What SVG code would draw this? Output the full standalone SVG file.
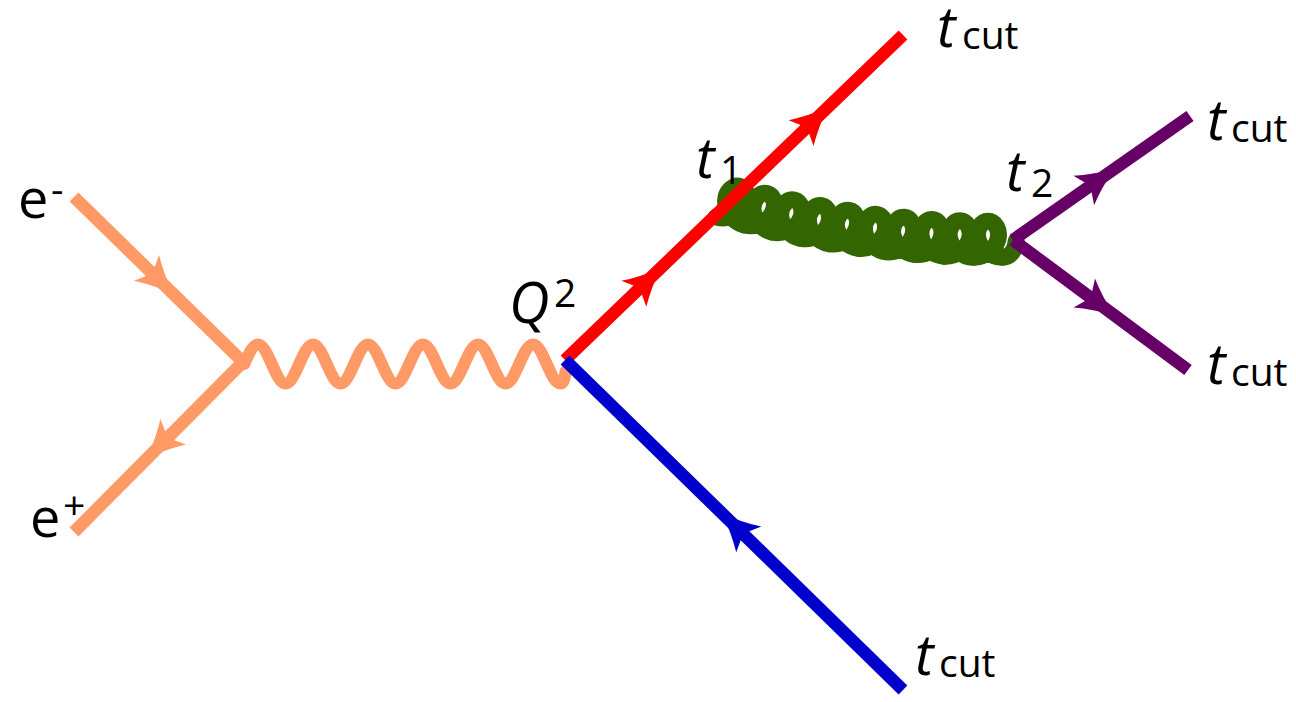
<svg xmlns="http://www.w3.org/2000/svg" width="1296" height="702" viewBox="0 0 1296 702">
<defs>
<style>
.ln{fill:none;stroke-width:12.5;stroke-linecap:butt}
.ph{fill:none;stroke:#FF9966;stroke-width:12;stroke-linecap:round;stroke-linejoin:round}
.gl{fill:none;stroke:#336600;stroke-width:17;stroke-linecap:round;stroke-linejoin:round}
.lab{font-family:"Open Sans","Liberation Sans",sans-serif;fill:#000}
.it{font-style:italic;font-size:56px}
.sub{font-size:39px}
.e{font-size:54px}
</style>
<path id="ah" d="M24,0 Q3,-8 -13,-18 Q-8,-7 -5,0 Q-8,7 -13,18 Q3,8 24,0 Z"/>
<path id="coil" class="gl" d="M-14.2,20.2 c11.62,0 21.66,-8.28 24.1,-18 c2.44,-9.72 -3.16,-18 -9.9,-18 c-6.74,0 -12.34,8.28 -9.9,18 c2.44,9.72 12.48,18 24.1,18"/>
</defs>
<rect width="1296" height="702" fill="#fff"/>
<g id="connectors">
  <g id="gluon">
    <use href="#coil" transform="translate(735.7,201.5) rotate(16)"/>
    <use href="#coil" transform="translate(763.1,208.9) rotate(14.2)"/>
    <use href="#coil" transform="translate(790.8,215.5) rotate(12.4)"/>
    <use href="#coil" transform="translate(818.6,221.2) rotate(10.7)"/>
    <use href="#coil" transform="translate(846.6,226.0) rotate(8.9)"/>
    <use href="#coil" transform="translate(874.7,230.0) rotate(7.1)"/>
    <use href="#coil" transform="translate(902.9,233.0) rotate(5.3)"/>
    <use href="#coil" transform="translate(931.3,235.2) rotate(3.6)"/>
    <use href="#coil" transform="translate(959.6,236.6) rotate(1.8)"/>
    <use href="#coil" transform="translate(988.0,237.0)"/>
    <path class="gl" d="M1002.2,257.2 c8,0 13,-7 14,-16"/>
  </g>
  <path id="photon" class="ph" d="M244.25,364 c4.48,-9.99 8.77,-19.5 13.75,-19.5 c4.98,0 9.27,9.51 13.75,19.5 c4.48,9.99 8.77,19.5 13.75,19.5 c4.98,0 9.27,-9.51 13.75,-19.5 c4.48,-9.99 8.77,-19.5 13.75,-19.5 c4.98,0 9.27,9.51 13.75,19.5 c4.48,9.99 8.77,19.5 13.75,19.5 c4.98,0 9.27,-9.51 13.75,-19.5 c4.48,-9.99 8.77,-19.5 13.75,-19.5 c4.98,0 9.27,9.51 13.75,19.5 c4.48,9.99 8.77,19.5 13.75,19.5 c4.98,0 9.27,-9.51 13.75,-19.5 c4.48,-9.99 8.77,-19.5 13.75,-19.5 c4.98,0 9.27,9.51 13.75,19.5 c4.48,9.99 8.77,19.5 13.75,19.5 c4.98,0 9.27,-9.51 13.75,-19.5 c4.48,-9.99 8.77,-19.5 13.75,-19.5 c4.98,0 9.27,9.51 13.75,19.5 c4.48,9.99 8.77,19.5 13.75,19.5 c4.98,0 9.27,-9.51 13.75,-19.5 c4.48,-9.99 8.77,-19.5 13.75,-19.5 c4.98,0 9.27,9.51 13.75,19.5 c4.48,9.99 8.77,19.5 13.75,19.5 c2.5,0 4.5,-5 5,-12"/>
  <path id="eminus-line" class="ln" stroke="#FF9966" d="M74,197 L243,362"/>
  <path id="eplus-line" class="ln" stroke="#FF9966" d="M243,362 L74,532"/>
  <path id="red-line" class="ln" stroke="#FF0000" d="M565,360 L903,35"/>
  <path id="blue-line" class="ln" stroke="#0000CC" d="M565,360 L903,690"/>
  <path id="purple-up" class="ln" stroke="#660066" d="M1013,240 L1190,116"/>
  <path id="purple-down" class="ln" stroke="#660066" d="M1013,240 L1188,370"/>
  <use href="#ah" fill="#FF9966" transform="translate(155.8,276.9) rotate(44.3)"/>
  <use href="#ah" fill="#FF9966" transform="translate(164.0,441.0) rotate(135)"/>
  <use href="#ah" fill="#FF0000" transform="translate(643.2,284.8) rotate(-43.9)"/>
  <use href="#ah" fill="#FF0000" transform="translate(810.4,124.1) rotate(-43.9)"/>
  <use href="#ah" fill="#0000CC" transform="translate(739.5,530.4) rotate(-135.7)"/>
  <use href="#ah" fill="#660066" transform="translate(1094.4,183.0) rotate(-35)"/>
  <use href="#ah" fill="#660066" transform="translate(1094.7,300.7) rotate(36.6)"/>
</g>
<g id="label-eminus" class="lab"><text class="e" x="18" y="218">e</text><text class="sub" x="51" y="203">-</text></g>
<g id="label-eplus" class="lab"><text class="e" x="30" y="537">e</text><text class="sub" x="63" y="519">+</text></g>
<g id="label-Q2" class="lab"><text class="it" x="509" y="323" font-size="56">Q</text><text class="sub" x="554" y="307" font-size="36">2</text></g>
<g id="label-t1" class="lab"><text class="it" x="696" y="178">t</text><text class="sub" x="720" y="184" font-size="36">1</text></g>
<g id="label-t2" class="lab"><text class="it" x="1006" y="191">t</text><text class="sub" x="1031" y="197" font-size="36">2</text></g>
<g id="label-tcut-top" class="lab"><text class="it" x="937" y="47">t</text><text class="sub" x="962" y="49">cut</text></g>
<g id="label-tcut-r1" class="lab"><text class="it" x="1207" y="140">t</text><text class="sub" x="1231" y="142">cut</text></g>
<g id="label-tcut-r2" class="lab"><text class="it" x="1207" y="384">t</text><text class="sub" x="1231" y="386">cut</text></g>
<g id="label-tcut-bottom" class="lab"><text class="it" x="915" y="675">t</text><text class="sub" x="939" y="677">cut</text></g>
</svg>
